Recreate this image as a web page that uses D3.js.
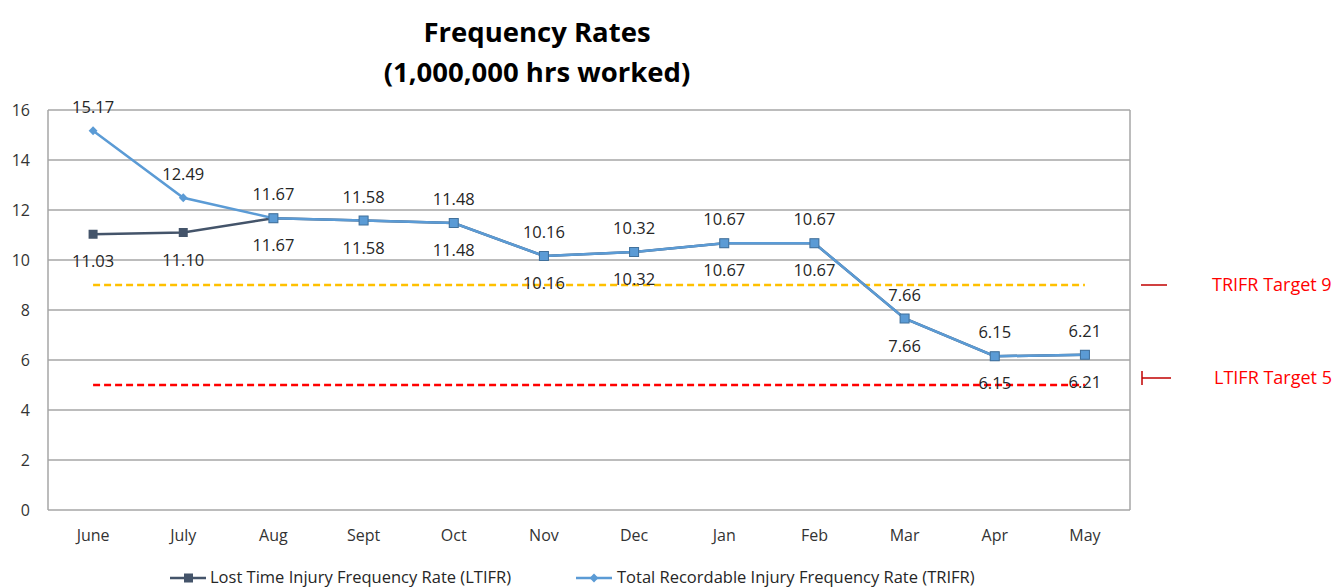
<!DOCTYPE html>
<html>
<head>
<meta charset="utf-8">
<script src="https://cdn.jsdelivr.net/npm/d3@7"></script>
<style>
body { margin: 0; background: #fff; }
svg text { font-family: "Open Sans", Carlito, sans-serif; }
</style>
</head>
<body>
<div id="content"></div>
<script>
const MONTHS = ['June', 'July', 'Aug', 'Sept', 'Oct', 'Nov', 'Dec', 'Jan', 'Feb', 'Mar', 'Apr', 'May'];
const LTIFR = [11.03, 11.10, 11.67, 11.58, 11.48, 10.16, 10.32, 10.67, 10.67, 7.66, 6.15, 6.21];
const TRIFR = [15.17, 12.49, 11.67, 11.58, 11.48, 10.16, 10.32, 10.67, 10.67, 7.66, 6.15, 6.21];
const Y_TICKS = [0, 2, 4, 6, 8, 10, 12, 14, 16];
const TRIFR_TARGET = 9;
const LTIFR_TARGET = 5;

var width = 1341;
var height = 588;

var plotLeft = 48, plotRight = 1130, plotTop = 110, plotBottom = 510;

var svg = d3.select('#content')
.append('svg')
.attr('width', width)
.attr('height', height);

var xScale = d3.scaleBand()
.domain(MONTHS)
.range([plotLeft, plotRight]);

var yScale = d3.scaleLinear()
.domain([0, 16])
.range([plotBottom, plotTop]);

function cx(i) {return xScale(MONTHS[i]) + xScale.bandwidth() / 2;}

// title
svg.append('text')
.attr('x', 537).attr('y', 42)
.attr('text-anchor', 'middle')
.style('font-size', '27.5px').style('font-weight', 'bold').style('fill', '#000')
.text('Frequency Rates');
svg.append('text')
.attr('x', 537).attr('y', 82)
.attr('text-anchor', 'middle')
.style('font-size', '27.5px').style('font-weight', 'bold').style('fill', '#000')
.text('(1,000,000 hrs worked)');

// gridlines
svg.append('g')
.selectAll('line')
.data(Y_TICKS)
.enter()
.append('line')
.attr('x1', plotLeft).attr('x2', plotRight)
.attr('y1', d => yScale(d)).attr('y2', d => yScale(d))
.attr('stroke', '#a6a6a6')
.attr('stroke-width', 1.5);

// frame sides
svg.append('line')
.attr('x1', plotLeft).attr('x2', plotLeft).attr('y1', plotTop).attr('y2', plotBottom)
.attr('stroke', '#a6a6a6').attr('stroke-width', 1.5);
svg.append('line')
.attr('x1', plotRight).attr('x2', plotRight).attr('y1', plotTop).attr('y2', plotBottom)
.attr('stroke', '#a6a6a6').attr('stroke-width', 1.5);

// y axis
var yAxis = d3.axisLeft(yScale).tickValues(Y_TICKS).tickSize(0).tickPadding(18);
var yg = svg.append('g')
.attr('transform', 'translate(' + plotLeft + ',0)')
.call(yAxis);
yg.select('.domain').remove();
yg.selectAll('text').style('font-size', '16px').style('fill', '#333').style('font-family', '"Open Sans", sans-serif');

// x axis
var xAxis = d3.axisBottom(xScale).tickSize(0).tickPadding(20);
var xg = svg.append('g')
.attr('transform', 'translate(0,' + plotBottom + ')')
.call(xAxis);
xg.select('.domain').remove();
xg.selectAll('text').style('font-size', '16px').style('fill', '#333').style('font-family', '"Open Sans", sans-serif');

// target lines
svg.append('line')
.attr('x1', cx(0)).attr('x2', cx(MONTHS.length - 1))
.attr('y1', yScale(TRIFR_TARGET)).attr('y2', yScale(TRIFR_TARGET))
.attr('stroke', '#FFC000').attr('stroke-width', 2.5)
.attr('stroke-dasharray', '7,4');
svg.append('line')
.attr('x1', cx(0)).attr('x2', cx(MONTHS.length - 1))
.attr('y1', yScale(LTIFR_TARGET)).attr('y2', yScale(LTIFR_TARGET))
.attr('stroke', '#FF0000').attr('stroke-width', 2.5)
.attr('stroke-dasharray', '7,4');

var line = d3.line()
.x((d, i) => cx(i))
.y(d => yScale(d));

// LTIFR
svg.append('path')
.datum(LTIFR)
.attr('d', line)
.attr('fill', 'none')
.attr('stroke', '#44546A')
.attr('stroke-width', 2.5);
svg.selectAll('.lt-mark')
.data(LTIFR)
.enter()
.append('rect')
.attr('class', 'lt-mark')
.attr('x', (d, i) => cx(i) - 4.5)
.attr('y', d => yScale(d) - 4.5)
.attr('width', 9).attr('height', 9)
.attr('fill', '#44546A');

// TRIFR
svg.append('path')
.datum(TRIFR)
.attr('d', line)
.attr('fill', 'none')
.attr('stroke', '#5B9BD5')
.attr('stroke-width', 2.5);
svg.selectAll('.tr-mark')
.data(TRIFR)
.enter()
.append('path')
.attr('class', 'tr-mark')
.attr('d', d3.symbol().type(d3.symbolDiamond2).size(50))
.attr('transform', (d, i) => 'translate(' + cx(i) + ',' + yScale(d) + ')')
.attr('fill', '#5B9BD5');

// overlapping points show a blue square
svg.selectAll('.ov-mark')
.data(TRIFR.map((d, i) => ({v: d, i: i})).filter(o => o.v === LTIFR[o.i]))
.enter()
.append('rect')
.attr('x', o => cx(o.i) - 4.5)
.attr('y', o => yScale(o.v) - 4.5)
.attr('width', 9).attr('height', 9)
.attr('fill', '#5B9BD5')
.attr('stroke', '#41719C')
.attr('stroke-width', 1);

// value labels
svg.selectAll('.lt-label')
.data(LTIFR)
.enter()
.append('text')
.attr('x', (d, i) => cx(i))
.attr('y', d => yScale(d) + 33)
.attr('text-anchor', 'middle')
.style('font-size', '16.5px').style('fill', '#262626')
.text(d => d3.format('.2f')(d));
svg.selectAll('.tr-label')
.data(TRIFR)
.enter()
.append('text')
.attr('x', (d, i) => cx(i))
.attr('y', d => yScale(d) - 18)
.attr('text-anchor', 'middle')
.style('font-size', '16.5px').style('fill', '#262626')
.text(d => d3.format('.2f')(d));

// target annotations
var ty = yScale(TRIFR_TARGET);
svg.append('line')
.attr('x1', 1141).attr('x2', 1167).attr('y1', ty).attr('y2', ty)
.attr('stroke', '#C00000').attr('stroke-width', 1.5);
svg.append('text')
.attr('x', 1212).attr('y', ty + 6)
.style('font-size', '18px').style('fill', '#FF0000')
.text('TRIFR Target ' + TRIFR_TARGET);

var ly = yScale(LTIFR_TARGET) - 7;
svg.append('line')
.attr('x1', 1142).attr('x2', 1171).attr('y1', ly).attr('y2', ly)
.attr('stroke', '#C00000').attr('stroke-width', 1.5);
svg.append('line')
.attr('x1', 1142).attr('x2', 1142).attr('y1', ly - 7).attr('y2', ly + 7)
.attr('stroke', '#C00000').attr('stroke-width', 1.5);
svg.append('text')
.attr('x', 1214).attr('y', ly + 6)
.style('font-size', '18px').style('fill', '#FF0000')
.text('LTIFR Target ' + LTIFR_TARGET);

// legend
var lgY = 578;
var lg1 = svg.append('g');
lg1.append('line').attr('x1', 170).attr('x2', 206).attr('y1', lgY).attr('y2', lgY)
.attr('stroke', '#44546A').attr('stroke-width', 2.5);
lg1.append('rect').attr('x', 184).attr('y', lgY - 4.5).attr('width', 9).attr('height', 9)
.attr('fill', '#44546A');
lg1.append('text').attr('x', 210).attr('y', lgY + 5)
.style('font-size', '16.5px').style('fill', '#262626')
.text('Lost Time Injury Frequency Rate (LTIFR)');

var lg2 = svg.append('g');
lg2.append('line').attr('x1', 576).attr('x2', 612).attr('y1', lgY).attr('y2', lgY)
.attr('stroke', '#5B9BD5').attr('stroke-width', 2.5);
lg2.append('path')
.attr('d', d3.symbol().type(d3.symbolDiamond2).size(50))
.attr('transform', 'translate(594,' + lgY + ')')
.attr('fill', '#5B9BD5');
lg2.append('text').attr('x', 617).attr('y', lgY + 5)
.style('font-size', '16.5px').style('fill', '#262626')
.text('Total Recordable Injury Frequency Rate (TRIFR)');
</script>
</body>
</html>
